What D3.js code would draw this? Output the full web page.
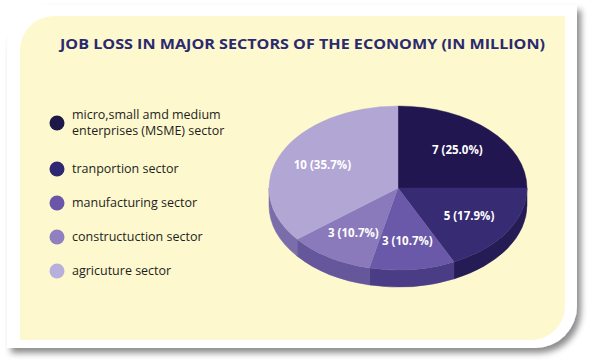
<!DOCTYPE html>
<html>
<head>
<meta charset="utf-8">
<script src="https://cdn.jsdelivr.net/npm/d3@7"></script>
<style>
  body { margin: 0; background: #fff; }
  svg { display: block; font-family: "Open Sans", "Noto Sans", sans-serif; }
</style>
</head>
<body>
<svg id="chart" width="589" height="364"></svg>
<script>
const sectors = [
  "micro,small amd medium\nenterprises (MSME) sector",
  "tranportion sector",
  "manufacturing sector",
  "constructuction sector",
  "agricuture sector",
];
const jobLoss = [7, 5, 3, 3, 10];
const sliceLabels = ["7 (25.0%)", "5 (17.9%)", "3 (10.7%)", "3 (10.7%)", "10 (35.7%)"];
const topColors = ["#221650", "#372c74", "#6a58a8", "#8a7abb", "#b2a6d4"];
const sideColors = ["#1a1040", "#261c55", "#4b3c86", "#66579c", "#7a6daa"];
const dotColors = ["#1e1848", "#2e2872", "#6a55a8", "#9080c0", "#b8b0dc"];

const svg = d3.select("#chart");

// card with shadow
const defs = svg.append("defs");
const f = defs.append("filter").attr("id", "shadow")
  .attr("x", "-5%").attr("y", "-5%").attr("width", "115%").attr("height", "115%");
f.append("feDropShadow").attr("dx", 4).attr("dy", 5).attr("stdDeviation", 3)
  .attr("flood-color", "#000").attr("flood-opacity", 0.45);

function cardPath(x0, y0, x1, y1, r) {
  return `M${x0},${y0 + r} A${r},${r} 0 0 1 ${x0 + r},${y0} L${x1},${y0} L${x1},${y1 - r}
    A${r},${r} 0 0 1 ${x1 - r},${y1} L${x0},${y1} Z`;
}

svg.append("path").attr("d", cardPath(7, 5, 577, 348, 42))
  .attr("fill", "#fff").attr("filter", "url(#shadow)");
svg.append("path").attr("d", cardPath(20, 16, 565, 340, 34))
  .attr("fill", "#fdf8cd");

svg.append("text")
  .attr("x", 60).attr("y", 49)
  .attr("textLength", 485).attr("lengthAdjust", "spacingAndGlyphs")
  .attr("font-size", 15).attr("font-weight", "bold").attr("fill", "#2b2a6e")
  .text("JOB LOSS IN MAJOR SECTORS OF THE ECONOMY (IN MILLION)");

// legend
const legendY = [123, 169, 203, 237, 271];
const legend = svg.append("g");
sectors.forEach((s, i) => {
  legend.append("circle").attr("cx", 57).attr("cy", legendY[i]).attr("r", 7.5)
    .attr("fill", dotColors[i]);
  const lines = s.split("\n");
  const t = legend.append("text").attr("x", 72).attr("font-size", 12.5).attr("fill", "#1e1e1e");
  lines.forEach((l, j) => {
    t.append("tspan").attr("x", 72)
      .attr("y", legendY[i] + 4 - (lines.length - 1) * 8 + j * 16)
      .text(l);
  });
});

// pie
const cx = 398, cy = 188, rx = 129, ry = 82, depth = 17;
const pie = d3.pie().sort(null).value(d => d);
const arcs = pie(jobLoss);

const px = a => cx + rx * Math.sin(a);
const py = a => cy - ry * Math.cos(a);

const g = svg.append("g");

// side walls (front half only)
arcs.forEach((d, i) => {
  const a0 = Math.max(d.startAngle, Math.PI / 2);
  const a1 = Math.min(d.endAngle, 3 * Math.PI / 2);
  if (a1 <= a0) return;
  const large = a1 - a0 > Math.PI ? 1 : 0;
  const p = `M${px(a0)},${py(a0)} A${rx},${ry} 0 ${large} 1 ${px(a1)},${py(a1)}
    L${px(a1)},${py(a1) + depth} A${rx},${ry} 0 ${large} 0 ${px(a0)},${py(a0) + depth} Z`;
  g.append("path").attr("d", p).attr("fill", sideColors[i])
    .attr("stroke", sideColors[i]).attr("stroke-width", 0.5);
});

// top face
const arc = d3.arc().innerRadius(0).outerRadius(rx);
const labelArc = d3.arc().innerRadius(rx * 0.3).outerRadius(rx);
const topFace = g.append("g")
  .attr("transform", `translate(${cx},${cy}) scale(1,${ry / rx})`);
topFace.selectAll("path").data(arcs).join("path")
  .attr("d", arc)
  .attr("fill", (d, i) => topColors[i])
  .attr("stroke", (d, i) => topColors[i]).attr("stroke-width", 0.5);

g.selectAll("text.lbl").data(arcs).join("text")
  .attr("class", "lbl")
  .attr("x", d => cx + labelArc.centroid(d)[0])
  .attr("y", d => cy + labelArc.centroid(d)[1] * ry / rx + 4)
  .attr("text-anchor", "middle")
  .attr("font-size", 11.5).attr("font-weight", "bold").attr("fill", "#fff")
  .text((d, i) => sliceLabels[i]);
</script>
</body>
</html>
